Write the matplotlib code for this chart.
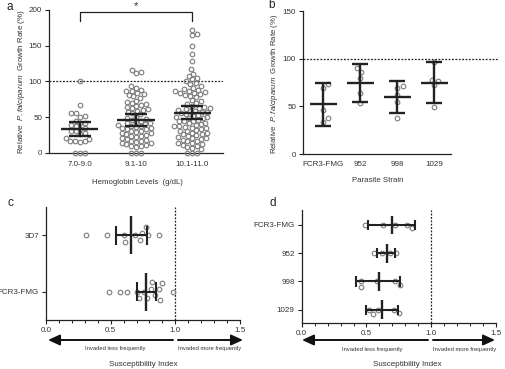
import numpy as np
import matplotlib.pyplot as plt
from matplotlib.patches import FancyArrowPatch
from matplotlib.ticker import MultipleLocator

plt.rcParams['font.family'] = ['Liberation Sans', 'DejaVu Sans']
plt.rcParams['mathtext.fontset'] = 'custom'
plt.rcParams['mathtext.it'] = 'Liberation Sans:italic'
plt.rcParams['mathtext.rm'] = 'Liberation Sans'

# ---- panel a : growth rate by hemoglobin level ----
hb_groups = ['7.0-9.0', '9.1-10', '10.1-11.0']
hb_low = [101, 67, 55, 55, 51, 50, 44, 42, 41, 39, 37, 35, 33, 31, 30, 28, 26,
          21, 19, 17, 17, 16, 15, 0, 0, 0]
hb_mid = [116, 113, 112,
          93, 91, 88, 87, 86, 84, 82, 81, 79, 77, 73, 71, 69, 68, 67, 66, 64,
          62, 61, 60, 59, 57, 55, 54,
          50, 48, 47, 46, 44, 43, 42, 41, 40, 39, 38, 37, 36, 35, 34, 33, 33,
          31, 30, 29, 28, 27, 26, 25, 24, 23, 22, 21, 19, 18, 17, 16, 15, 14,
          13, 12, 11, 10, 9, 8, 0, 0, 0]
hb_high = [172, 167, 165, 149, 138, 129, 117, 111, 108, 105, 103, 101,
           97, 96, 93, 91, 89, 88, 87, 86, 85, 84, 83, 82, 81, 80, 78,
           74, 72, 70, 68, 66, 64, 63, 62, 61, 60,
           59, 58, 57, 57, 55, 54, 53, 52, 50, 50, 49, 48, 46, 45, 45, 44, 42,
           41, 40, 39, 38, 38, 36, 35, 34, 33, 32, 31, 30, 28, 27, 26, 26, 25,
           23, 22, 21, 20, 19, 18, 17, 16, 14, 13, 12, 11, 10, 8, 7, 5, 0, 0, 0]
hb_mean = [33, 46, 56]
hb_lo = [23, 38, 47]
hb_hi = [43, 54, 65]

# ---- panel b : growth rate by parasite strain ----
strains = ['FCR3-FMG', '952', '998', '1029']
strain_vals = [[73, 69, 46, 38, 34],
               [90, 86, 80, 64, 53],
               [71, 69, 62, 55, 38],
               [97, 78, 77, 72, 49]]
strain_mean = [52, 75, 59.5, 75]
strain_lo = [29, 55, 42.5, 53]
strain_hi = [74, 94, 76.5, 97]

# ---- panel c : susceptibility index, two strains ----
c_labels = ['3D7', 'FCR3-FMG']
c_vals = [[0.31, 0.47, 0.60, 0.61, 0.69, 0.73, 0.74, 0.77, 0.79, 0.87],
          [0.49, 0.57, 0.63, 0.70, 0.72, 0.76, 0.78, 0.81, 0.82, 0.84, 0.87,
           0.88, 0.90, 0.98]]
c_mean = [0.66, 0.77]
c_lo = [0.54, 0.70]
c_hi = [0.78, 0.85]

# ---- panel d : susceptibility index, four strains ----
d_labels = ['FCR3-FMG', '952', '998', '1029']
d_vals = [[0.49, 0.63, 0.72, 0.81, 0.85],
          [0.56, 0.62, 0.68, 0.73],
          [0.46, 0.46, 0.58, 0.72, 0.76],
          [0.52, 0.55, 0.59, 0.71, 0.75]]
d_mean = [0.70, 0.656, 0.60, 0.623]
d_lo = [0.515, 0.58, 0.42, 0.494]
d_hi = [0.875, 0.72, 0.76, 0.741]

W, H = 505, 369
fig = plt.figure(figsize=(W / 100, H / 100), dpi=100)

TXT = '#333333'
LN = '#222222'
MK = '#808080'


def box(l, t, r, b):
    return [l / W, 1 - b / H, (r - l) / W, (b - t) / H]


def fx(px):
    return px / W


def fy(py):
    return 1 - py / H


def swarm(vals, diam):
    # simple beeswarm, everything in pixels
    vals = np.asarray(vals, float)
    off = np.zeros(len(vals))
    placed = []
    for i in np.argsort(vals, kind='stable'):
        v = vals[i]
        near = [(off[j], vals[j]) for j in placed if abs(vals[j] - v) < diam]
        cands = [0.0]
        for xo, yo in near:
            dx = np.sqrt(diam ** 2 - (yo - v) ** 2)
            cands += [xo + dx, xo - dx]
        cands.sort(key=lambda c: (round(abs(c), 6), -c))
        for c in cands:
            if all((c - xo) ** 2 + (yo - v) ** 2 >= diam ** 2 - 1e-6 for xo, yo in near):
                off[i] = c
                break
        placed.append(i)
    return off


def style(ax):
    for s in ['top', 'right']:
        ax.spines[s].set_visible(False)
    for s in ['left', 'bottom']:
        ax.spines[s].set_color(LN)
        ax.spines[s].set_linewidth(0.9)
    ax.tick_params(direction='out', length=3, width=0.8, color=LN,
                   labelsize=5.8, labelcolor=TXT, pad=2)


mk = dict(ls='none', marker='o', mfc='none', mec=MK, ms=3.3, mew=0.85, clip_on=False, zorder=3)
ylab = 'Relative  $\\mathit{P.falciparum}$  Growth Rate (%)'

# ---------------- a ----------------
ax = fig.add_axes(box(49, 10, 223, 152.7))
style(ax)
ax.set_xlim(-0.55, 2.55)
ax.set_ylim(0, 200)
ax.set_yticks([0, 50, 100, 150, 200])
ax.set_xticks(range(3))
ax.set_xticklabels(hb_groups)
ax.tick_params(axis='x', length=0, pad=6)
ypx = 142.7 / 200
xpx = 174 / 3.1
for i, vals in enumerate([hb_low, hb_mid, hb_high]):
    off = swarm(np.array(vals) * ypx, 5.0) / xpx
    ax.plot(i + off, vals, **mk)
    ax.hlines(hb_mean[i], i - 0.33, i + 0.33, color=LN, lw=1.7, zorder=4)
    ax.vlines(i, hb_lo[i], hb_hi[i], color=LN, lw=1.7, zorder=4)
    ax.hlines([hb_lo[i], hb_hi[i]], i - 0.2, i + 0.2, color=LN, lw=1.7, zorder=4)
ax.axhline(100, ls=(0, (1.5, 1.2)), lw=0.9, color=LN, zorder=1)
ax.plot([0, 0, 2, 2], [185, 197, 197, 185], color=LN, lw=0.9, clip_on=False)
ax.text(1, 206, '*', ha='center', va='center', fontsize=8, color=TXT)
fig.text(fx(21.5), fy(82), ylab, rotation=90,
         ha='center', va='center', fontsize=5.8, color=TXT)
fig.text(fx(137), fy(183), 'Hemoglobin Levels  (g/dL)', ha='center', va='center',
         fontsize=5.6, color=TXT)
fig.text(fx(10), fy(7), 'a', ha='center', va='center', fontsize=8.5, color='#222')

# ---------------- b ----------------
ax = fig.add_axes(box(303, 11, 451, 154))
style(ax)
ax.set_xlim(-0.55, 3.45)
ax.set_ylim(0, 150)
ax.set_yticks([0, 50, 100, 150])
ax.set_xticks(range(4))
ax.set_xticklabels(strains)
ax.tick_params(axis='x', length=0, pad=5)
ypx = 143 / 150
xpx = 37
for i, vals in enumerate(strain_vals):
    off = swarm(np.array(vals) * ypx, 5.8) / xpx
    ax.plot(i + off, vals, **mk)
    ax.hlines(strain_mean[i], i - 0.36, i + 0.36, color=LN, lw=1.7, zorder=4)
    ax.vlines(i, strain_lo[i], strain_hi[i], color=LN, lw=1.7, zorder=4)
    ax.hlines([strain_lo[i], strain_hi[i]], i - 0.22, i + 0.22, color=LN, lw=1.7, zorder=4)
ax.plot([0, 1.32], [100, 100], transform=ax.get_yaxis_transform(), clip_on=False,
        ls=(0, (1.5, 1.2)), lw=0.9, color=LN, zorder=1)
fig.text(fx(275), fy(84), ylab, rotation=90,
         ha='center', va='center', fontsize=5.6, color=TXT)
fig.text(fx(378), fy(180), 'Parasite Strain', ha='center', va='center',
         fontsize=5.6, color=TXT)
fig.text(fx(272), fy(5), 'b', ha='center', va='center', fontsize=8.5, color='#222')


# ---------------- c and d ----------------
def si_panel(rect, labels, allvals, means, los, his, ylim, ypx, half, cap, diam):
    ax = fig.add_axes(rect)
    style(ax)
    ax.set_xlim(0, 1.5)
    ax.set_ylim(*ylim)
    ax.set_xticks([0, 0.5, 1.0, 1.5])
    ax.set_xticklabels(['0.0', '0.5', '1.0', '1.5'])
    ax.xaxis.set_minor_locator(MultipleLocator(0.1))
    ax.tick_params(axis='x', which='minor', length=2, width=0.7, color=LN)
    ax.set_yticks(range(len(labels)))
    ax.set_yticklabels(labels)
    ax.tick_params(axis='y', length=3)
    xpx = 129.4
    for i, vals in enumerate(allvals):
        off = swarm(np.array(vals) * xpx, diam) / ypx
        ax.plot(vals, i + off, **mk)
        ax.vlines(means[i], i - half, i + half, color=LN, lw=1.7, zorder=4)
        ax.hlines(i, los[i], his[i], color=LN, lw=1.5, zorder=4)
        ax.vlines([los[i], his[i]], i - cap, i + cap, color=LN, lw=1.5, zorder=4)
    ax.axvline(1.0, ls=(0, (1.5, 1.2)), lw=0.9, color=LN, zorder=1)
    return ax


si_panel(box(46, 207, 240, 320), c_labels, c_vals, c_mean, c_lo, c_hi,
         (1.5, -0.5), 56.6, 0.34, 0.17, 7.0)
si_panel(box(301.7, 210, 496, 323), d_labels, d_vals, d_mean, d_lo, d_hi,
         (3.47, -0.53), 28.3, 0.33, 0.18, 6.0)


def arrows(l, m1, m2, r, y, tl, tr, tsi, ty):
    for a, b in [(m1, l), (m2, r)]:
        fig.patches.append(FancyArrowPatch((fx(a), fy(y)), (fx(b), fy(y)),
                                           transform=fig.transFigure,
                                           arrowstyle='-|>,head_length=0.7,head_width=0.32',
                                           mutation_scale=10, lw=1.4, color='#111',
                                           shrinkA=0, shrinkB=0))
    fig.text(fx(tl), fy(ty), 'Invaded less frequently', ha='center', va='center',
             fontsize=4.2, color=TXT)
    fig.text(fx(tr), fy(ty), 'Invaded more frequently', ha='center', va='center',
             fontsize=4.2, color=TXT)
    fig.text(fx(tsi), fy(365), 'Susceptibility Index', ha='center', va='center',
             fontsize=5.8, color=TXT)


arrows(48, 173, 178, 243, 340, 115, 210, 143, 348.5)
arrows(302, 428, 433, 495, 340, 372, 465, 407, 349)

fig.text(fx(10), fy(203), 'c', ha='center', va='center', fontsize=8.5, color='#222')
fig.text(fx(273), fy(203), 'd', ha='center', va='center', fontsize=8.5, color='#222')

fig.savefig('out.png', dpi=100)
